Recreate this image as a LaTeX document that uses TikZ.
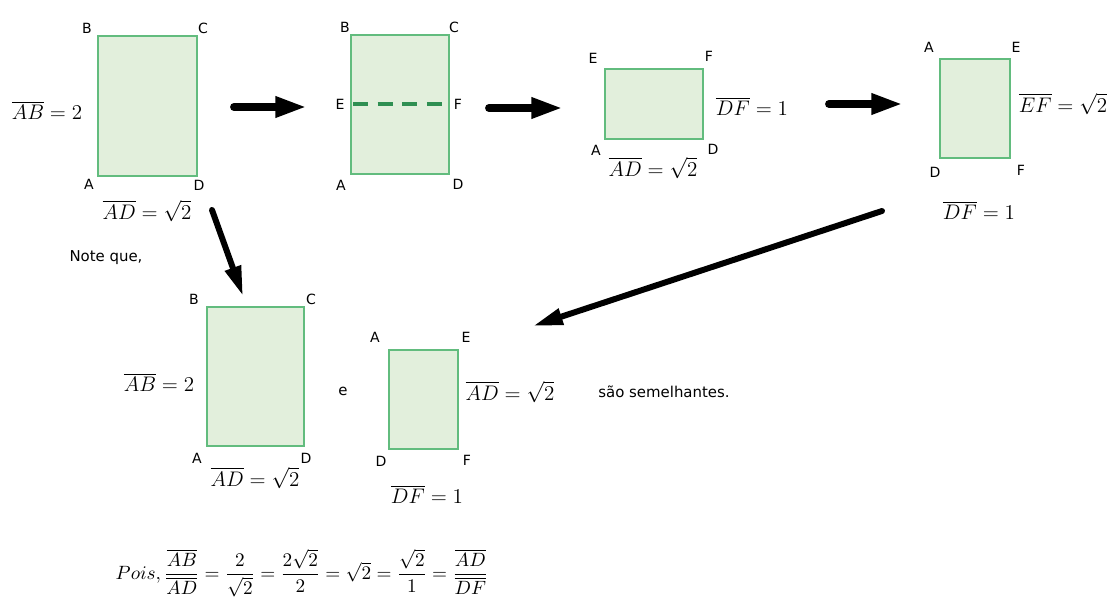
\documentclass[tikz,border=0pt]{standalone}
\usepackage{amsmath}
\usepackage{fontspec}
\usepackage{tikz}
\usetikzlibrary{arrows.meta}
\setsansfont{DejaVu Sans}
\definecolor{RectFill}{HTML}{E2EFDC}
\definecolor{RectEdge}{HTML}{62BC7E}
\definecolor{CutLine}{HTML}{2F8F52}

\begin{document}
\begin{tikzpicture}[x=0.02cm, y=-0.02cm,
    rect/.style={draw=RectEdge, fill=RectFill, line width=1.2pt},
    vtx/.style={font=\sffamily\fontsize{8}{9}\selectfont},
    txt/.style={font=\sffamily\fontsize{8.5}{10}\selectfont},
    meas/.style={font=\fontsize{12}{14}\selectfont},
    bigarrow/.style={line width=4.5pt, line cap=round, -{Triangle[length=18pt, width=11pt]}},
    slimarrow/.style={line width=3.4pt, line cap=round, -{Triangle[length=17pt, width=9pt]}}]
  \useasboundingbox (0,0) rectangle (1109,601);

  % folha inicial
  \draw[rect] (98,36) rectangle (197,176);
  \node[vtx] (b1) at (87,28) {B};
  \node[vtx] (c1) at (203,28) {C};
  \node[vtx] (a1) at (89,184) {A};
  \node[vtx] (d1) at (199,185) {D};
  \node[meas] (ab1) at (47,110) {$\overline{AB}=2$};
  \node[meas] (ad1) at (147,211) {$\overline{AD}=\sqrt{2}$};

  % dobra ao meio
  \draw[rect] (351,35) rectangle (449,174);
  \draw[CutLine, line width=2.2pt, dash pattern=on 8.5pt off 5.5pt] (353,104) -- (449,104);
  \node[vtx] (b2) at (345,27) {B};
  \node[vtx] (c2) at (454,27) {C};
  \node[vtx] (e2) at (340,104) {E};
  \node[vtx] (f2) at (458,104) {F};
  \node[vtx] (a2) at (341,185) {A};
  \node[vtx] (d2) at (458,184) {D};

  % metade deitada
  \draw[rect] (605,69) rectangle (703,139);
  \node[vtx] (e3) at (593,58) {E};
  \node[vtx] (f3) at (709,56) {F};
  \node[vtx] (a3) at (596,150) {A};
  \node[vtx] (d3) at (713,149) {D};
  \node[meas] (df3) at (752,106) {$\overline{DF}=1$};
  \node[meas] (ad3) at (653,168) {$\overline{AD}=\sqrt{2}$};

  % metade em pe
  \draw[rect] (940,59) rectangle (1010,158);
  \node[vtx] (a4) at (929,47) {A};
  \node[vtx] (e4) at (1016,47) {E};
  \node[vtx] (d4) at (935,172) {D};
  \node[vtx] (f4) at (1021,170) {F};
  \node[meas] (ef4) at (1063,104) {$\overline{EF}=\sqrt{2}$};
  \node[meas] (df4) at (979,210) {$\overline{DF}=1$};

  % setas
  \coordinate (s1) at (234,107); \coordinate (t1) at (307,107);
  \coordinate (s2) at (489,108); \coordinate (t2) at (563,108);
  \coordinate (s3) at (829,104); \coordinate (t3) at (903,104);
  \coordinate (s4) at (212,210); \coordinate (t4) at (243,296);
  \coordinate (s5) at (882,211); \coordinate (t5) at (533,326);
  \draw[bigarrow] (s1) -- (t1);
  \draw[bigarrow] (s2) -- (t2);
  \draw[bigarrow] (s3) -- (t3);
  \draw[slimarrow] (s4) -- (t4);
  \draw[slimarrow] (s5) -- (t5);

  \node[txt] (note) at (106,258) {Note que,};

  % comparacao
  \draw[rect] (207,307) rectangle (304,446);
  \node[vtx] (b5) at (194,299) {B};
  \node[vtx] (c5) at (311,299) {C};
  \node[vtx] (a5) at (197,458) {A};
  \node[vtx] (d5) at (306,458) {D};
  \node[meas] (ab5) at (159,382) {$\overline{AB}=2$};
  \node[meas] (ad5) at (255,478) {$\overline{AD}=\sqrt{2}$};
  \node[txt] (and) at (343,391) {e};

  \draw[rect] (389,350) rectangle (458,449);
  \node[vtx] (a6) at (375,337) {A};
  \node[vtx] (e6) at (466,337) {E};
  \node[vtx] (d6) at (381,461) {D};
  \node[vtx] (f6) at (467,460) {F};
  \node[meas] (ad6) at (510,392) {$\overline{AD}=\sqrt{2}$};
  \node[meas] (df6) at (427,494) {$\overline{DF}=1$};
  \node[txt] (sim) at (664,392) {são semelhantes.};

  \node[font=\fontsize{11}{13}\selectfont] (pois) at (302,573)
    {$Pois,\dfrac{\overline{AB}}{\overline{AD}}=\dfrac{2}{\sqrt{2}}=\dfrac{2\sqrt{2}}{2}=\sqrt{2}=\dfrac{\sqrt{2}}{1}=\dfrac{\overline{AD}}{\overline{DF}}$};
\end{tikzpicture}
\end{document}
